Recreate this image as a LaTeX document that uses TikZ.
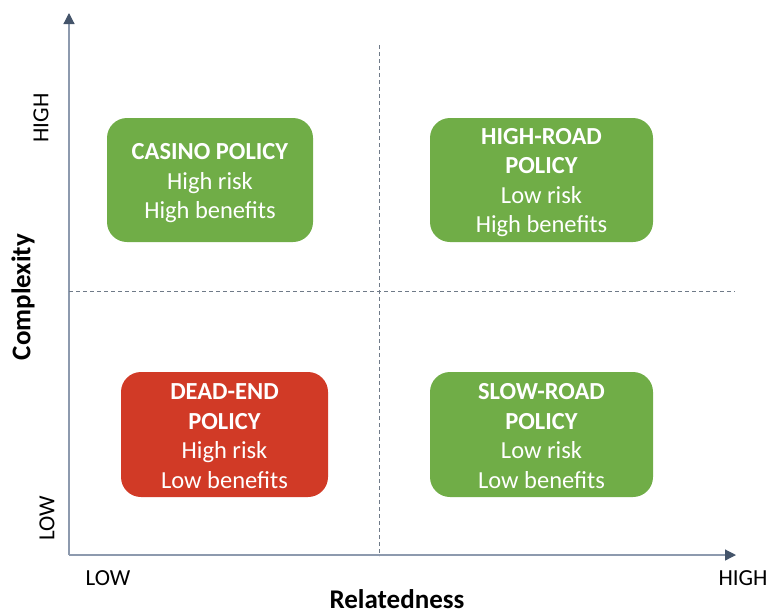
\documentclass[tikz,border=0pt]{standalone}
\usepackage{fontspec}
\setmainfont{Carlito}
\usetikzlibrary{arrows.meta}
\definecolor{axisline}{HTML}{8D9AAE}
\definecolor{axishead}{HTML}{44546A}
\definecolor{dashgrey}{HTML}{6F7A88}
\definecolor{goodgreen}{HTML}{70AD47}
\definecolor{badred}{HTML}{D13A26}
\begin{document}
\begin{tikzpicture}[x=1pt,y=-1pt,
  quad/.style={rounded corners=20pt, text=white, align=center,
    font=\fontsize{24.5}{29.5}\selectfont, inner sep=0pt},
  axis/.style={draw=axisline, line width=1.2pt,
    -{Triangle[length=11pt,width=11pt,fill=axishead,color=axishead]}},
  divider/.style={draw=dashgrey, line width=0.8pt, dash pattern=on 4pt off 3pt},
  ticklabel/.style={font=\fontsize{23}{25}\selectfont, inner sep=0pt},
  axislabel/.style={font=\fontsize{27}{30}\selectfont\bfseries, inner sep=0pt}]
\useasboundingbox (0,0) rectangle (770,614);

% axes
\coordinate (origin) at (69,555);
\coordinate (ytip) at (69,13);
\coordinate (xtip) at (736,555);
\draw[axis] (origin) -- (ytip);
\draw[axis] (origin) -- (xtip);

% quadrant dividers
\coordinate (vtop) at (379,45);
\coordinate (vbot) at (379,556);
\coordinate (hleft) at (69,291);
\coordinate (hright) at (735,291);
\draw[divider] (vtop) -- (vbot);
\draw[divider] (hleft) -- (hright);

% quadrant boxes
\fill[goodgreen, rounded corners=20pt] (107,118) rectangle (313,242);
\fill[goodgreen, rounded corners=20pt] (430,118) rectangle (653,242);
\fill[badred, rounded corners=20pt] (121,372) rectangle (328,497);
\fill[goodgreen, rounded corners=20pt] (430,372) rectangle (653,497);

\node[quad] (casino) at (210,183.5) {\textbf{CASINO POLICY}\\High risk\\High benefits};
\node[quad] (highroad) at (541.5,182.5) {\textbf{HIGH-ROAD}\\\textbf{POLICY}\\Low risk\\High benefits};
\node[quad] (deadend) at (224.5,436) {\textbf{DEAD-END}\\\textbf{POLICY}\\High risk\\Low benefits};
\node[quad] (slowroad) at (541.5,436) {\textbf{SLOW-ROAD}\\\textbf{POLICY}\\Low risk\\Low benefits};

% tick labels
\node[ticklabel, rotate=90] (yhigh) at (41,118) {HIGH};
\node[ticklabel, rotate=90] (ylow) at (47,518) {LOW};
\node[ticklabel] (xlow) at (108,578) {LOW};
\node[ticklabel] (xhigh) at (743,578) {HIGH};

% axis titles
\node[axislabel, rotate=90] (ytitle) at (23,297) {Complexity};
\node[axislabel] (xtitle) at (397,599) {Relatedness};
\end{tikzpicture}
\end{document}
